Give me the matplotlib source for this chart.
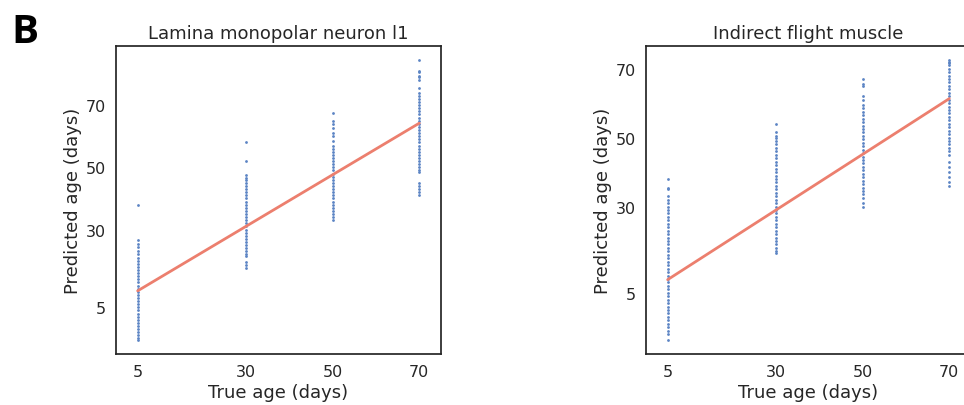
import numpy as np
import matplotlib
matplotlib.use("Agg")
from matplotlib import pyplot as plt
import seaborn as sns

sns.set_style("white")
plt.rcParams['font.family'] = ['DejaVu Sans']

# grupos de edad real (dias)
true_ages = [5, 30, 50, 70]
xticks = [5, 30, 50, 70]
yticks = [5, 30, 50, 70]

# Lamina monopolar neuron l1 - edad predicha por grupo
lamina_5 = [38, 26.5, 25.5, 24.5, 23, 22, 21, 20, 19, 18, 17, 16, 15, 14, 13, 12, 11, 10, 9, 8,
            7, 6, 5, 4, 3, 2, 1, 0, -1, -2, -3, -4, -5, -5.5]
lamina_30 = [58, 52, 47.5, 46.5, 46, 45, 44, 43, 42, 41, 40, 39, 38, 37, 36, 35, 34, 33, 32, 31,
             30, 29, 28, 27, 26, 25, 24, 23, 22, 21.5, 19.5, 18.5, 17.5]
lamina_50 = [67.5, 65, 64, 62.5, 61, 60, 58.5, 57, 56, 55, 54, 53, 52, 51, 50, 49, 48, 47, 46, 45,
             44, 43, 42, 41, 40, 39, 38, 37, 36, 35, 34, 33]
lamina_70 = [84.5, 81, 80.5, 79.5, 79, 78, 75.5, 74, 73, 72, 71, 70, 69, 68, 67, 66, 65, 64, 63, 62,
             61, 60, 59, 58, 57, 56, 55, 54, 53, 52, 51, 50, 49, 48.5, 45, 44, 43, 42, 41]
lamina_fit = [10.3, 64.2]   # recta ajustada en x=5 y x=70

# Indirect flight muscle
muscle_5 = [38, 35.5, 35, 33, 32, 31, 30, 29, 28, 27, 26, 25, 24, 23, 22, 21, 20, 19, 18, 17, 16,
            15, 14, 13, 12, 11, 10, 9, 8, 7, 6, 5, 4, 3, 2, 1, 0, -1, -2, -3, -4, -5, -6, -7, -8.7]
muscle_30 = [54, 51.5, 50.5, 50, 49, 48, 47, 46, 45, 44, 43, 42, 41, 40, 39, 38, 37, 36, 35, 34,
             33, 32, 31, 30, 29, 28, 27, 26, 25, 24, 23, 22, 21, 20, 19, 18, 17, 16.5]
muscle_50 = [67, 65.5, 65, 62, 61, 59.5, 58.5, 57.5, 56.5, 55.5, 54.5, 53.5, 52.5, 51.5, 50.5, 49.5,
             48.5, 47.5, 46.5, 45.5, 44.5, 43.5, 42.5, 41.5, 40.5, 39.5, 38.5, 37.5, 36.5, 35.5,
             34.5, 33.5, 32.5, 31, 30]
muscle_70 = [72.5, 72, 71.5, 71, 70, 69, 68, 67, 66, 65, 64, 63, 62, 61, 60, 59, 58, 57, 56, 55,
             54, 53, 52, 51, 50, 49, 48, 47, 46, 45, 43, 41.5, 40, 38.5, 37, 36]
muscle_fit = [8.8, 61.3]

panels = [
    ("Lamina monopolar neuron l1", [lamina_5, lamina_30, lamina_50, lamina_70], lamina_fit),
    ("Indirect flight muscle", [muscle_5, muscle_30, muscle_50, muscle_70], muscle_fit),
]

fig = plt.figure(figsize=(9.64, 4.06), dpi=100)
posiciones = [[0.1203, 0.1256, 0.3371, 0.7586], [0.6701, 0.1256, 0.3371, 0.7586]]

for k, (pos, (titulo, grupos, ajuste)) in enumerate(zip(posiciones, panels)):
    ax = fig.add_axes(pos)
    for edad, valores in zip(true_ages, grupos):
        ax.scatter([edad] * len(valores), valores, s=4, color='#5b84c4', linewidths=0, zorder=2)
    ax.plot([true_ages[0], true_ages[-1]], ajuste, color='#ec7f6e', lw=2, zorder=3)
    ax.set_xlim(0, 75)
    ax.set_xticks(xticks)
    ax.set_yticks(yticks)
    ax.tick_params(labelsize=11.5, colors='.15')
    ax.set_xlabel("True age (days)", fontsize=13, color='.15', labelpad=3)
    ax.set_ylabel("Predicted age (days)", fontsize=13, color='.15', labelpad=3)
    ax.set_title(titulo, fontsize=13, color='.15', pad=6)
    for sp in ax.spines.values():
        sp.set_color('.15')
        sp.set_linewidth(1.25)
    if k == 1:
        # el panel derecho queda cortado en el borde de la figura
        ax.spines['right'].set_visible(False)

fig.text(0.012, 0.968, "B", fontsize=29, fontweight='bold', family=['Open Sans', 'DejaVu Sans'],
         color='black', va='top', ha='left')

fig.savefig("out.png", dpi=100)
